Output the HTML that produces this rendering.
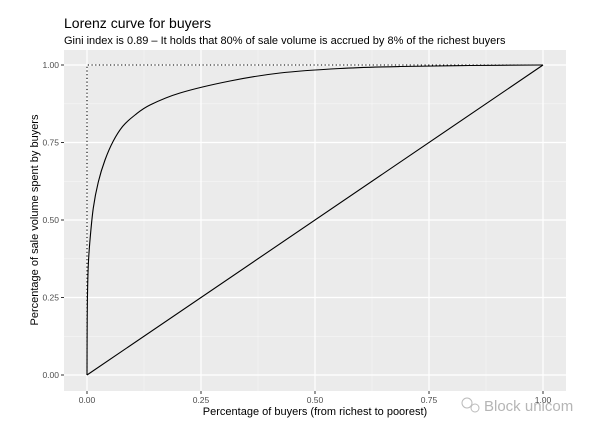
<!DOCTYPE html>
<html><head><meta charset="utf-8"><style>
body{margin:0;background:#fff;}
svg text{font-family:"Liberation Sans",Arial,sans-serif;}
</style></head><body>
<svg width="600" height="431" viewBox="0 0 600 431" xmlns="http://www.w3.org/2000/svg">
<rect width="600" height="431" fill="#fff"/>
<text x="64" y="28" font-size="14" fill="#000">Lorenz curve for buyers</text>
<text x="64" y="44" font-size="11" fill="#000">Gini index is 0.89 – It holds that 80% of sale volume is accrued by 8% of the richest buyers</text>
<rect x="64" y="50" width="502" height="341" fill="#ebebeb"/>
<g stroke="#f7f7f7" stroke-width="0.6">
<line x1="64" x2="566" y1="103.8" y2="103.8"/><line x1="64" x2="566" y1="181.3" y2="181.3"/>
<line x1="64" x2="566" y1="258.8" y2="258.8"/><line x1="64" x2="566" y1="336.3" y2="336.3"/>
<line x1="144" x2="144" y1="50" y2="391"/><line x1="258" x2="258" y1="50" y2="391"/>
<line x1="372" x2="372" y1="50" y2="391"/><line x1="486" x2="486" y1="50" y2="391"/>
</g>
<g stroke="#fff" stroke-width="1.2">
<line x1="64" x2="566" y1="65" y2="65"/><line x1="64" x2="566" y1="142.5" y2="142.5"/>
<line x1="64" x2="566" y1="220" y2="220"/><line x1="64" x2="566" y1="297.5" y2="297.5"/>
<line x1="64" x2="566" y1="375" y2="375"/>
<line x1="87" x2="87" y1="50" y2="391"/><line x1="201" x2="201" y1="50" y2="391"/>
<line x1="315" x2="315" y1="50" y2="391"/><line x1="429" x2="429" y1="50" y2="391"/>
<line x1="543" x2="543" y1="50" y2="391"/>
</g>
<polyline points="87,375 87,65 543,65" fill="none" stroke="#000" stroke-width="1.1" stroke-dasharray="1.2,2.5"/>
<line x1="87" y1="375" x2="543" y2="65" stroke="#000" stroke-width="1.1"/>
<path id="lc" d="" fill="none" stroke="#000" stroke-width="1.1" stroke-linejoin="round"/>
<g stroke="#333" stroke-width="1">
<line x1="61" x2="64" y1="65" y2="65"/><line x1="61" x2="64" y1="142.5" y2="142.5"/>
<line x1="61" x2="64" y1="220" y2="220"/><line x1="61" x2="64" y1="297.5" y2="297.5"/>
<line x1="61" x2="64" y1="375" y2="375"/>
<line x1="87" x2="87" y1="391" y2="394"/><line x1="201" x2="201" y1="391" y2="394"/>
<line x1="315" x2="315" y1="391" y2="394"/><line x1="429" x2="429" y1="391" y2="394"/>
<line x1="543" x2="543" y1="391" y2="394"/>
</g>
<g font-size="8.5" fill="#4d4d4d" text-anchor="end">
<text x="59" y="68">1.00</text><text x="59" y="145.5">0.75</text><text x="59" y="223">0.50</text>
<text x="59" y="300.5">0.25</text><text x="59" y="378">0.00</text>
</g>
<g font-size="8.5" fill="#4d4d4d" text-anchor="middle">
<text x="87" y="403">0.00</text><text x="201" y="403">0.25</text><text x="315" y="403">0.50</text>
<text x="429" y="403">0.75</text><text x="543" y="403">1.00</text>
</g>
<text x="315" y="415" font-size="11" text-anchor="middle" fill="#000">Percentage of buyers (from richest to poorest)</text>
<text transform="translate(38,220) rotate(-90)" font-size="11" text-anchor="middle" fill="#000">Percentage of sale volume spent by buyers</text>
<text x="484" y="411" font-size="15" fill="#b5b5b5">Block unicom</text>
<circle cx="467" cy="403" r="5" fill="none" stroke="#bbb"/><circle cx="475" cy="408" r="4" fill="none" stroke="#bbb"/>
</svg>
<script>
var p=[[87,375],[87.1,340],[87.4,300],[88.3,265],[90,240],[93.3,208],[98.3,182],[105,160],[113.3,141],[123,126],[135,115],[150,105],[180,93],[230,81],[280,73],[340,68.5],[400,66.5],[470,65.5],[543,65]];
var d="M"+p[0][0]+","+p[0][1];
for(var i=0;i<p.length-1;i++){var a=p[Math.max(i-1,0)],b=p[i],c=p[i+1],e=p[Math.min(i+2,p.length-1)];
d+=" C"+(b[0]+(c[0]-a[0])/6)+","+(b[1]+(c[1]-a[1])/6)+" "+(c[0]-(e[0]-b[0])/6)+","+(c[1]-(e[1]-b[1])/6)+" "+c[0]+","+c[1];}
document.getElementById("lc").setAttribute("d",d);
</script>
</body></html>
